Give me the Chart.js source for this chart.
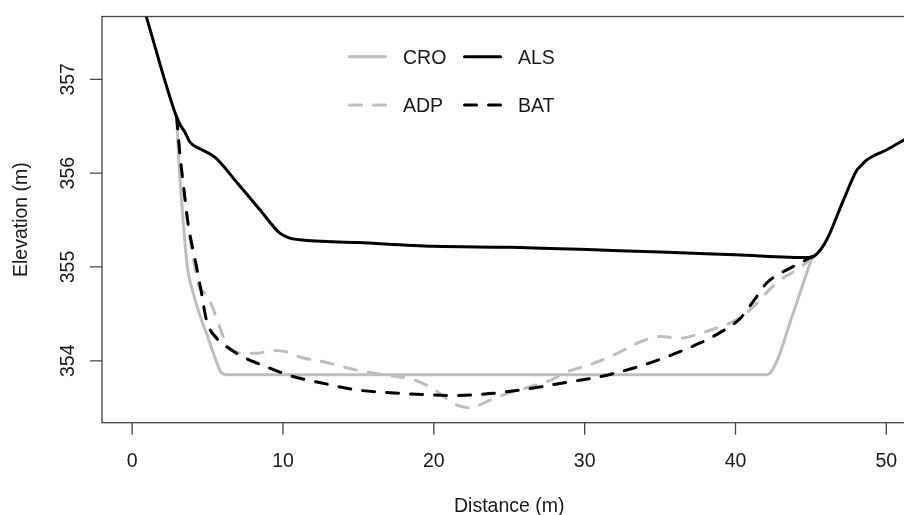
<!DOCTYPE html>
<html>
<head>
<meta charset="utf-8">
<script src="https://cdn.jsdelivr.net/npm/chart.js@4"></script>
<style>
  html, body { margin: 0; padding: 0; overflow: hidden; background: #fff; }
  #wrap { width: 940px; height: 515px; }
</style>
</head>
<body>
<div id="wrap"><canvas id="profileChart" width="940" height="515"></canvas></div>
<script>
// Cross-section profiles (distance m, elevation m)
const croX = [2.95, 3.1, 3.3, 3.66, 4.05, 4.5, 4.93, 5.5, 5.93, 6.4, 15, 25, 35, 42.0, 42.3, 42.6, 42.95, 43.6, 44.27, 45.05];
const croY = [356.60, 356.12, 355.66, 355.00, 354.72, 354.48, 354.29, 354.03, 353.87, 353.85, 353.85, 353.85, 353.85, 353.85, 353.87, 353.95, 354.08, 354.40, 354.72, 355.09];

const adpX = [2.95, 3.16, 3.45, 3.7, 4.1, 4.4, 4.7, 5.0, 5.35, 5.8, 6.27, 6.8, 7.5, 8.25, 9.35, 10.1, 11.1, 12.67, 14.88, 17.09, 18.64, 19.96, 21.5, 22.4, 23.72, 25.05, 26.3, 27.7, 28.8, 30.35, 31.9, 33.67, 35.0, 36.3, 37.65, 38.75, 39.6, 40.4, 41.4, 42.2, 42.95, 44.06, 45.05];
const adpY = [356.60, 356.20, 355.80, 355.45, 355.05, 354.80, 354.74, 354.69, 354.56, 354.36, 354.17, 354.10, 354.08, 354.08, 354.11, 354.10, 354.04, 353.99, 353.90, 353.84, 353.80, 353.70, 353.53, 353.50, 353.58, 353.66, 353.72, 353.79, 353.88, 353.96, 354.06, 354.20, 354.26, 354.24, 354.29, 354.35, 354.40, 354.47, 354.61, 354.75, 354.86, 354.97, 355.09];

const alsX = [0, 0.95, 2.94, 3.2, 3.49, 3.83, 4.49, 5.48, 7.0, 8.47, 9.79, 10.4, 11.1, 15, 20, 25, 31, 35, 40, 44.93, 45.4, 46.05, 47.15, 48.04, 48.26, 48.7, 50.03, 51.13, 52];
const alsY = [358.17, 357.66, 356.60, 356.51, 356.44, 356.33, 356.26, 356.17, 355.89, 355.61, 355.36, 355.31, 355.29, 355.26, 355.22, 355.21, 355.18, 355.16, 355.13, 355.10, 355.14, 355.29, 355.71, 356.03, 356.07, 356.14, 356.25, 356.35, 356.43];

const batX = [2.95, 3.16, 3.45, 3.7, 4.27, 4.6, 4.93, 5.6, 6.26, 7.36, 8.69, 10.5, 12.67, 14.88, 17.09, 19.3, 21.5, 23.72, 26.6, 28.8, 31.0, 33.2, 35.4, 37.65, 38.97, 40.3, 41.3, 42.07, 42.95, 44.27, 45.05];
const batY = [356.60, 356.21, 355.80, 355.47, 355.00, 354.72, 354.43, 354.24, 354.15, 354.04, 353.95, 353.84, 353.76, 353.69, 353.66, 353.64, 353.63, 353.65, 353.71, 353.77, 353.83, 353.92, 354.04, 354.19, 354.30, 354.45, 354.66, 354.83, 354.93, 355.04, 355.11];

const xTicks = [0, 10, 20, 30, 40, 50];
const yTicks = [354, 355, 356, 357];

// legend is laid out column-wise, like R's legend(ncol = 2)
const legendOrder = [['CRO', 'ADP'], ['ALS', 'BAT']];

const GREY = '#bebebe';
const FONT = '19.5px "Liberation Sans", Arial, sans-serif';

const toPoints = (xs, ys) => xs.map((x, i) => ({ x: x, y: ys[i] }));

// base-R look: box, outward ticks, rotated y labels, legend without frame
const rAxes = {
  id: 'rAxes',
  afterDraw(chart) {
    const { ctx, chartArea: a, scales } = chart;
    const sx = scales.x, sy = scales.y;
    ctx.save();

    ctx.strokeStyle = '#444';
    ctx.lineWidth = 1.3;
    ctx.strokeRect(a.left, a.top, a.right - a.left, a.bottom - a.top);

    ctx.beginPath();
    xTicks.forEach((v) => {
      const px = sx.getPixelForValue(v);
      ctx.moveTo(px, a.bottom);
      ctx.lineTo(px, a.bottom + 12);
    });
    yTicks.forEach((v) => {
      const py = sy.getPixelForValue(v);
      ctx.moveTo(a.left, py);
      ctx.lineTo(a.left - 12, py);
    });
    ctx.stroke();

    ctx.fillStyle = '#1a1a1a';
    ctx.font = FONT;
    ctx.textAlign = 'center';
    ctx.textBaseline = 'alphabetic';
    xTicks.forEach((v) => ctx.fillText(String(v), sx.getPixelForValue(v), a.bottom + 44));
    ctx.fillText('Distance (m)', (a.left + a.right) / 2, a.bottom + 89);

    yTicks.forEach((v) => {
      ctx.save();
      ctx.translate(a.left - 28, sy.getPixelForValue(v));
      ctx.rotate(-Math.PI / 2);
      ctx.fillText(String(v), 0, 0);
      ctx.restore();
    });
    ctx.save();
    ctx.translate(a.left - 75, (a.top + a.bottom) / 2);
    ctx.rotate(-Math.PI / 2);
    ctx.fillText('Elevation (m)', 0, 0);
    ctx.restore();

    // legend
    ctx.textAlign = 'left';
    legendOrder.forEach((col, c) => {
      col.forEach((label, r) => {
        const ds = chart.data.datasets.find((d) => d.label === label);
        const x0 = a.left + 247.5 + c * 115;
        const yc = a.top + 40.2 + r * 48.3;
        ctx.beginPath();
        ctx.strokeStyle = ds.borderColor;
        ctx.lineWidth = ds.borderWidth;
        ctx.lineCap = 'round';
        ctx.setLineDash(ds.borderDash || []);
        ctx.moveTo(x0, yc);
        ctx.lineTo(x0 + 36, yc);
        ctx.stroke();
        ctx.setLineDash([]);
        ctx.fillStyle = '#1a1a1a';
        ctx.fillText(label, x0 + 53.5, yc + 7);
      });
    });

    ctx.restore();
  },
};

const ctx = document.getElementById('profileChart').getContext('2d');
const profileChart = new Chart(ctx, {
  type: 'line',
  data: {
    datasets: [
      { label: 'ALS', data: toPoints(alsX, alsY), borderColor: '#000', borderWidth: 3 },
      { label: 'BAT', data: toPoints(batX, batY), borderColor: '#000', borderWidth: 3, borderDash: [12, 12] },
      { label: 'ADP', data: toPoints(adpX, adpY), borderColor: GREY, borderWidth: 3, borderDash: [12, 12] },
      { label: 'CRO', data: toPoints(croX, croY), borderColor: GREY, borderWidth: 3 },
    ],
  },
  options: {
    responsive: false,
    animation: false,
    layout: { padding: { left: 102, top: 16.5, right: 23.5, bottom: 92.3 } },
    elements: {
      point: { radius: 0 },
      line: { cubicInterpolationMode: 'monotone', borderCapStyle: 'round', borderJoinStyle: 'round', fill: false },
    },
    scales: {
      x: { type: 'linear', min: -2, max: 52, display: false },
      y: { type: 'linear', min: 353.34, max: 357.67, display: false },
    },
    plugins: { legend: { display: false }, tooltip: { enabled: false } },
  },
  plugins: [rAxes],
});
</script>
</body>
</html>
